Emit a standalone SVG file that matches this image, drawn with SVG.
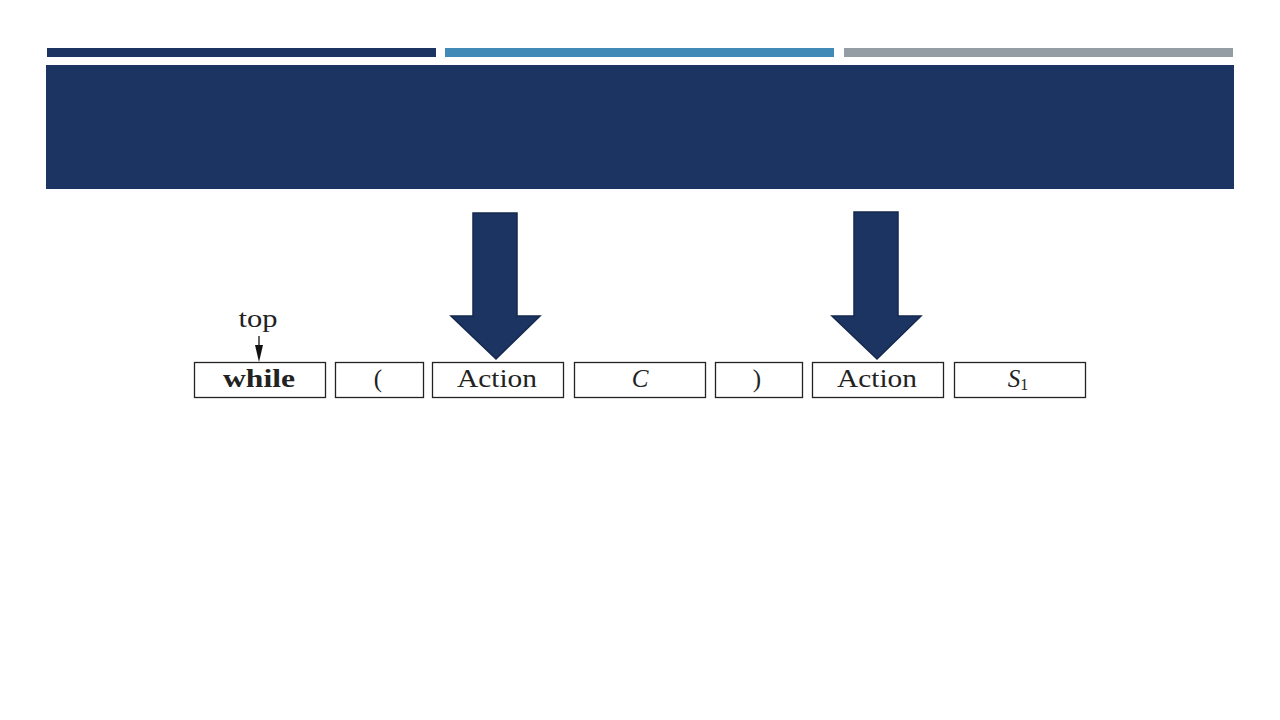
<svg xmlns="http://www.w3.org/2000/svg" width="1280" height="720" viewBox="0 0 1280 720">
<style>
.box{fill:#fff;stroke:#222;stroke-width:1.3}
.t{font-family:"Liberation Serif","DejaVu Serif",serif;font-size:25px;fill:#222;text-anchor:middle}
.big{fill:#1C3461;stroke:#14284d;stroke-width:1.5}
</style>
<rect width="1280" height="720" fill="#fff"/>
<g id="header">
<rect x="47" y="48" width="389" height="9" fill="#1C3461"/>
<rect x="445" y="48" width="389" height="9" fill="#418AB8"/>
<rect x="844" y="48" width="389" height="9" fill="#949DA4"/>
<rect x="46" y="65" width="1188" height="124" fill="#1C3461"/>
</g>
<g id="arrow1"><path class="big" d="M473,213 H517 V316 H540 L496,359 L451,316 H473 Z"/></g>
<g id="arrow2"><path class="big" d="M854,212 H898 V316 H921 L877,359 L832,316 H854 Z"/></g>
<g id="n-while"><rect class="box" x="194.5" y="362.5" width="131" height="35"/><text class="t" x="259" y="387" font-weight="bold" textLength="72" lengthAdjust="spacingAndGlyphs">while</text></g>
<g id="n-lparen"><rect class="box" x="335.5" y="362.5" width="88" height="35"/><text class="t" x="378" y="387">(</text></g>
<g id="n-action1"><rect class="box" x="432.5" y="362.5" width="131" height="35"/><text class="t" x="497" y="387" textLength="80" lengthAdjust="spacingAndGlyphs">Action</text></g>
<g id="n-c"><rect class="box" x="574.5" y="362.5" width="131" height="35"/><text class="t" x="640" y="387" font-style="italic">C</text></g>
<g id="n-rparen"><rect class="box" x="715.5" y="362.5" width="87" height="35"/><text class="t" x="757" y="387">)</text></g>
<g id="n-action2"><rect class="box" x="812.5" y="362.5" width="131" height="35"/><text class="t" x="877" y="387" textLength="80" lengthAdjust="spacingAndGlyphs">Action</text></g>
<g id="n-s1"><rect class="box" x="954.5" y="362.5" width="131" height="35"/><text class="t" x="1018" y="387"><tspan font-style="italic">S</tspan><tspan font-size="16" dy="3">1</tspan></text></g>
<g id="n-top"><text class="t" x="258" y="327" textLength="39" lengthAdjust="spacingAndGlyphs">top</text></g>
<g id="connectors">
<line x1="259" y1="336" x2="259" y2="349" stroke="#111" stroke-width="1.3"/>
<path d="M255,345 L263,345 L259,362 Z" fill="#111"/>
</g>
</svg>
